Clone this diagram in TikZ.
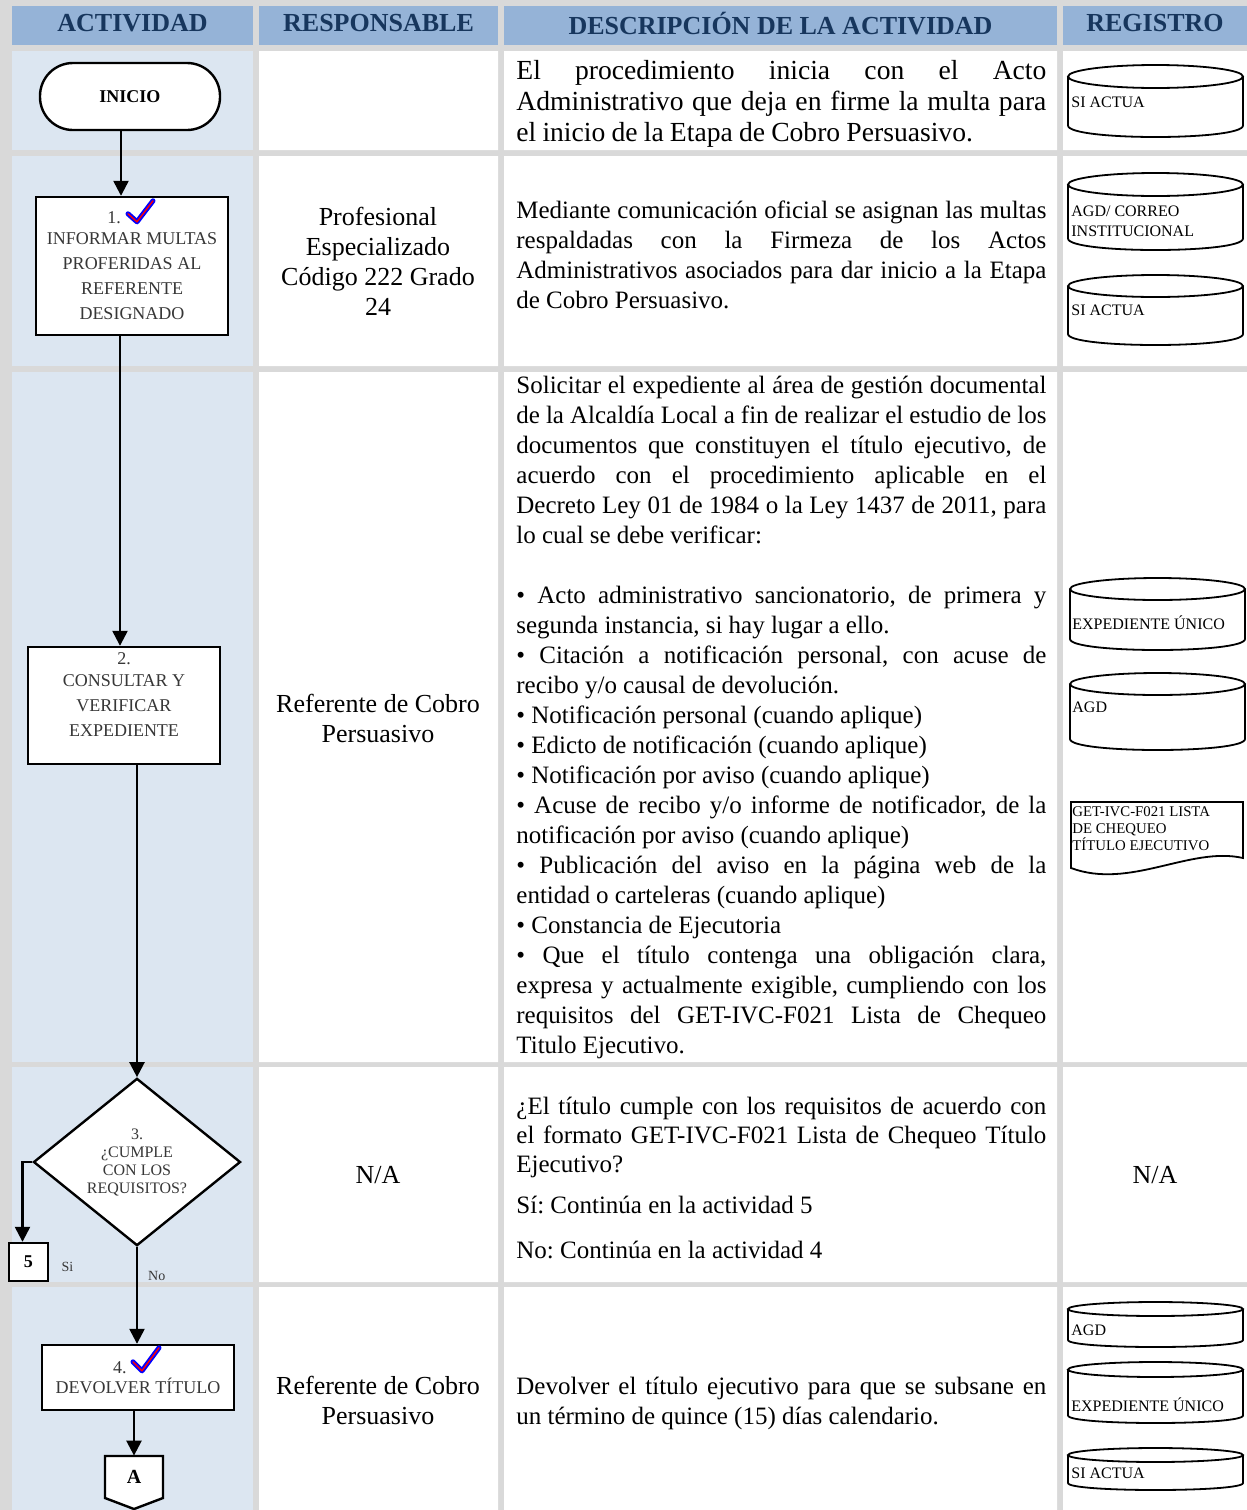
\documentclass[tikz,border=0pt]{standalone}
\usepackage{fontspec}
\setmainfont{Liberation Serif}
\usetikzlibrary{shapes.geometric, arrows.meta, positioning}

\definecolor{gris}{RGB}{217,217,217}
\definecolor{celeste}{RGB}{220,230,241}
\definecolor{azulcab}{RGB}{149,179,215}
\definecolor{azulosc}{RGB}{23,54,93}
\definecolor{grisosc}{RGB}{55,55,55}

\begin{document}
\begin{tikzpicture}[x=0.5pt,y=-0.5pt,>={Triangle[length=7.5pt,width=7.5pt]},
	cabecera/.style={fill=azulcab, text=azulosc, font=\bfseries\fontsize{13}{15}\selectfont, minimum height=19.5pt, inner sep=0pt, text depth=2.5pt},
	caja/.style={rectangle, draw, fill=white, line width=1.2pt, align=center, inner sep=0pt, text=grisosc, font=\fontsize{9}{12.5}\selectfont},
	terminal/.style={caja, rounded corners=16.5pt, text=black, font=\bfseries\fontsize{9}{11}\selectfont},
	decision/.style={diamond, draw, fill=white, line width=1.2pt, align=center, inner sep=0pt, text=grisosc, font=\fontsize{8}{9}\selectfont},
	flecha/.style={->, line width=1.2pt},
	respons/.style={align=center, font=\fontsize{13}{15}\selectfont},
	descrip/.style={anchor=north west, inner sep=0pt, text width=265pt, align=justify, font=\fontsize{12.5}{15}\selectfont, execute at begin node={\parindent=0pt\frenchspacing\spaceskip=3.1pt plus 8pt minus 1.3pt}},
	reglinea/.style={draw, line width=0.9pt},
	regtxt/.style={anchor=west, align=left, inner sep=0pt, font=\fontsize{8}{10}\selectfont},
	chulo/.style={draw=blue, double=red, double distance=0.7pt, line width=0.9pt, line cap=round, line join=round},
	etiq/.style={inner sep=0pt, text=grisosc, font=\fontsize{7}{8}\selectfont}]

	\useasboundingbox (0,0) rectangle (1247,1510);
	\fill[gris] (0,0) rectangle (1247,1510);

	% filas de la tabla
	\fill[celeste] (12,51) rectangle (253,150);    \fill[white] (259,51) rectangle (498,150) (504,51) rectangle (1057,150) (1063,51) rectangle (1247,150);
	\fill[celeste] (12,156) rectangle (253,366);   \fill[white] (259,156) rectangle (498,366) (504,156) rectangle (1057,366) (1063,156) rectangle (1247,366);
	\fill[celeste] (12,372) rectangle (253,1062);  \fill[white] (259,372) rectangle (498,1062) (504,372) rectangle (1057,1062) (1063,372) rectangle (1247,1062);
	\fill[celeste] (12,1067) rectangle (253,1282); \fill[white] (259,1067) rectangle (498,1282) (504,1067) rectangle (1057,1282) (1063,1067) rectangle (1247,1282);
	\fill[celeste] (12,1287) rectangle (253,1510); \fill[white] (259,1287) rectangle (498,1510) (504,1287) rectangle (1057,1510) (1063,1287) rectangle (1247,1510);

	% cabecera
	\node[cabecera, minimum width=120.5pt] (hAct)  at (132.5,25.5) {ACTIVIDAD};
	\node[cabecera, minimum width=119.5pt] (hResp) at (378.5,25.5) {RESPONSABLE};
	\node[cabecera, minimum width=276.5pt] (hDesc) at (780.5,25.5) {DESCRIPCIÓN DE LA ACTIVIDAD};
	\node[cabecera, minimum width=92pt]    (hReg)  at (1155,25.5)  {REGISTRO};

	% actividad
	\node[terminal, minimum width=90pt, minimum height=33.5pt] (inicio) at (130,96.5)   {INICIO};
	\node[caja, minimum width=96pt, minimum height=69pt]       (act1)   at (132,266)    {1.\hspace{18pt}\mbox{}\\[-2pt]INFORMAR MULTAS\\PROFERIDAS AL\\REFERENTE\\DESIGNADO};
	\node[caja, minimum width=96pt, minimum height=58.5pt]     (act2)   at (124,705.5)  {2.\\[-1.5pt]CONSULTAR Y\\VERIFICAR\\EXPEDIENTE\\[-2pt]\mbox{}};
	\node[decision, minimum width=103.5pt, minimum height=81.5pt] (dec) at (137,1162)   {3.\\¿CUMPLE\\CON LOS\\REQUISITOS?};
	\node[caja, text=black, minimum width=19.5pt, minimum height=19pt, font=\bfseries\fontsize{9}{11}\selectfont] (five) at (28.5,1262) {5};
	\node[etiq, right=6pt of five, yshift=-2.5pt]              (si)     {Si};
	\node[caja, minimum width=96pt, minimum height=32.5pt, font=\fontsize{9}{10}\selectfont] (act4) at (138,1377.5) {4.\hspace{18pt}\mbox{}\\DEVOLVER TÍTULO};
	\draw[line width=1.2pt, fill=white] (105,1456) -- (163,1456) -- (163,1498) -- (134,1509) -- (105,1498) -- cycle;
	\node[inner sep=0pt, minimum width=29pt, minimum height=21pt, font=\bfseries\fontsize{10}{12}\selectfont] (conA) at (134,1477) {A};

	\draw[chulo, shift={(act1.north)}] (-4,18) -- (5,26) -- (21,5);
	\draw[chulo, shift={(act4.north)}] (-5,18) -- (4,27) -- (21,4);

	\draw[flecha] ([xshift=-4.5pt]inicio.south) -- ([xshift=-4.5pt]inicio.south |- act1.north);
	\draw[flecha] ([xshift=-6pt]act1.south) -- ([xshift=-6pt]act1.south |- act2.north);
	\draw[flecha] (act2.south -| dec.north) -- (dec.north);
	\draw[flecha] (dec.west) -| ([xshift=-3pt]five.north);
	\draw[flecha] (dec.south) -- (dec.south |- act4.north) node[etiq, pos=0.3, right=5pt] {No};
	\draw[flecha] (act4.south -| conA.north) -- (conA.north);

	% responsable
	\node[respons] (r2) at (378,261)  {Profesional\\Especializado\\Código 222 Grado\\24};
	\node[respons] (r3) at (378,718)  {Referente de Cobro\\Persuasivo};
	\node[respons] (r4) at (378,1175) {N/A};
	\node[respons] (r5) at (378,1400) {Referente de Cobro\\Persuasivo};

	% descripcion
	\node[descrip, font=\fontsize{13.8}{15.5}\selectfont] (d1) at (516,60) {El procedimiento inicia con el Acto\linebreak Administrativo que deja en firme la multa para\linebreak el inicio de la Etapa de Cobro Persuasivo.};
	\node[descrip] (d2) at (516,200.5) {Mediante comunicación oficial se asignan las multas\linebreak respaldadas con la Firmeza de los Actos\linebreak Administrativos asociados para dar inicio a la Etapa\linebreak de Cobro Persuasivo.};
	\node[descrip] (d3) at (516,375.5) {Solicitar el expediente al área de gestión documental\linebreak de la Alcaldía Local a fin de realizar el estudio de los\linebreak documentos que constituyen el título ejecutivo, de\linebreak acuerdo con el procedimiento aplicable en el\linebreak Decreto Ley 01 de 1984 o la Ley 1437 de 2011, para\linebreak lo cual se debe verificar:\par\vspace{15pt}
		• Acto administrativo sancionatorio, de primera y\linebreak segunda instancia, si hay lugar a ello.\par
		• Citación a notificación personal, con acuse de\linebreak recibo y/o causal de devolución.\par
		• Notificación personal (cuando aplique)\par
		• Edicto de notificación (cuando aplique)\par
		• Notificación por aviso (cuando aplique)\par
		• Acuse de recibo y/o informe de notificador, de la\linebreak notificación por aviso (cuando aplique)\par
		• Publicación del aviso en la página web de la\linebreak entidad o carteleras (cuando aplique)\par
		• Constancia de Ejecutoria\par
		• Que el título contenga una obligación clara,\linebreak expresa y actualmente exigible, cumpliendo con los\linebreak requisitos del GET-IVC-F021 Lista de Chequeo\linebreak Titulo Ejecutivo.};
	\node[descrip, font=\fontsize{12.5}{14.5}\selectfont] (d4) at (516,1096.5) {¿El título cumple con los requisitos de acuerdo con\linebreak el formato GET-IVC-F021 Lista de Chequeo Título\linebreak Ejecutivo?\par\vspace{6pt}Sí: Continúa en la actividad 5\par\vspace{8pt}No: Continúa en la actividad 4};
	\node[descrip] (d5) at (516,1376.5) {Devolver el título ejecutivo para que se subsane en\linebreak un término de quince (15) días calendario.};

	% registro
	\foreach \xa/\ya/\yb/\r in {1068/65/137/11.5, 1068/173/250/11.5, 1068/275/345/11, 1070/578/650/11, 1070/673/750/11, 1068/1302/1347/7, 1068/1362/1423/7.5, 1068/1448/1490/7}
		\draw[reglinea, fill=white] (\xa,\ya+\r) -- (\xa,\yb-\r) .. controls (\xa,\yb+\r/3) and (\xa+175,\yb+\r/3) .. (\xa+175,\yb-\r) -- (\xa+175,\ya+\r)
			(\xa+87.5,\ya+\r) ellipse [x radius=87.5, y radius=\r];
	\draw[reglinea, fill=white] (1071,802) -- (1243,802) -- (1243,858) .. controls (1190,846) and (1130,890) .. (1071,868) -- cycle;

	\node[regtxt] (t1) at (1071,102)  {SI ACTUA};
	\node[regtxt] (t2) at (1071,221)  {AGD/ CORREO\\INSTITUCIONAL};
	\node[regtxt] (t3) at (1071,310)  {SI ACTUA};
	\node[regtxt] (t4) at (1072,623)  {EXPEDIENTE ÚNICO};
	\node[regtxt] (t5) at (1072,707)  {AGD};
	\node[regtxt, anchor=north west, font=\fontsize{7.4}{8.5}\selectfont] (t6) at (1072,806) {GET-IVC-F021 LISTA\\DE CHEQUEO\\TÍTULO EJECUTIVO};
	\node[regtxt] (t7) at (1071,1330) {AGD};
	\node[regtxt] (t8) at (1071,1405) {EXPEDIENTE ÚNICO};
	\node[regtxt] (t9) at (1071,1473) {SI ACTUA};
	\node[respons] (r4b) at (1155,1175) {N/A};
\end{tikzpicture}
\end{document}
